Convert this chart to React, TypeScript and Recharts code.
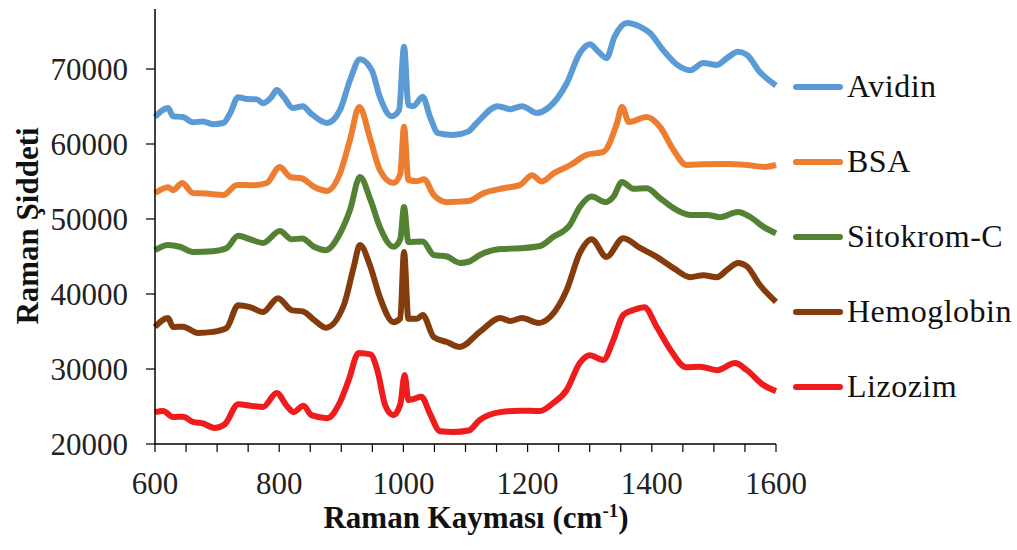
import { LineChart, Line, XAxis, YAxis, Legend, Label } from 'recharts';

type Pt = [number, number];

// Raman kayması (cm-1), şiddet
const avidin: Pt[] = [
  [600, 63600], [621, 64800], [629, 63700], [645, 63600], [661, 62900], [677, 63000],
  [693, 62650], [710, 62800], [721, 64100], [734, 66250], [748, 66000], [764, 65950],
  [774, 65450], [788, 66300], [796, 67200], [807, 66300], [822, 64800], [838, 65050],
  [850, 64150], [877, 62800], [898, 64550], [914, 68500], [930, 71300], [949, 69850],
  [962, 66300], [981, 63700], [993, 64500], [1001, 72950], [1008, 65200], [1016, 65050],
  [1031, 66300], [1043, 63600], [1056, 61450], [1080, 61200], [1104, 61650], [1118, 62800],
  [1152, 65050], [1172, 64650], [1191, 65050], [1215, 64150], [1233, 64800], [1263, 68100],
  [1284, 72100], [1300, 73300], [1314, 72300], [1327, 71450], [1340, 74300], [1360, 76150],
  [1381, 75650], [1397, 74800], [1418, 72550], [1441, 70550], [1462, 69850], [1483, 70800],
  [1505, 70550], [1521, 71450], [1539, 72300], [1553, 71900], [1574, 69600], [1600, 67800],
];

const bsa: Pt[] = [
  [600, 53450], [621, 54250], [629, 53850], [644, 54800], [661, 53450], [682, 53400],
  [710, 53200], [732, 54550], [759, 54500], [780, 54800], [801, 56950], [818, 55600],
  [837, 55400], [856, 54300], [877, 53750], [898, 56100], [914, 60550], [929, 64950],
  [947, 60550], [962, 56550], [984, 54800], [995, 56000], [1001, 62300], [1008, 55200],
  [1022, 55050], [1033, 55300], [1049, 53200], [1070, 52250], [1086, 52300], [1105, 52400],
  [1129, 53450], [1161, 54100], [1188, 54550], [1207, 55850], [1223, 55000], [1242, 56100],
  [1269, 57200], [1295, 58550], [1322, 58950], [1344, 62800], [1352, 64950], [1363, 62950],
  [1392, 63600], [1413, 62300], [1435, 59200], [1456, 57200], [1483, 57300], [1521, 57350],
  [1553, 57200], [1582, 56950], [1600, 57200],
];

const sitokromC: Pt[] = [
  [600, 45850], [621, 46550], [640, 46300], [661, 45600], [693, 45700], [715, 46100],
  [734, 47750], [753, 47300], [774, 46800], [801, 48400], [820, 47300], [837, 47400],
  [856, 46300], [875, 45850], [898, 48100], [914, 51200], [930, 55600], [947, 52550],
  [962, 48950], [984, 46300], [995, 47300], [1001, 51600], [1008, 46950], [1031, 47000],
  [1049, 45200], [1070, 45000], [1091, 44150], [1105, 44300], [1123, 45200], [1156, 46000],
  [1188, 46100], [1220, 46400], [1241, 47600], [1268, 49200], [1284, 51600], [1303, 53000],
  [1325, 52250], [1338, 52950], [1352, 54950], [1370, 54050], [1392, 54100], [1413, 52800],
  [1435, 51450], [1462, 50550], [1489, 50550], [1510, 50250], [1539, 50950], [1558, 50300],
  [1580, 48950], [1600, 48100],
];

const hemoglobin: Pt[] = [
  [600, 35600], [621, 36800], [629, 35600], [645, 35650], [669, 34800], [693, 34950],
  [715, 35450], [734, 38500], [753, 38250], [774, 37600], [798, 39450], [820, 37850],
  [839, 37650], [856, 36550], [875, 35500], [904, 38500], [920, 43600], [930, 46550],
  [947, 43600], [962, 39600], [984, 36250], [995, 36750], [1001, 45600], [1008, 36700],
  [1022, 36700], [1031, 37200], [1049, 34250], [1070, 33600], [1091, 32950], [1123, 34950],
  [1156, 36800], [1172, 36400], [1191, 36800], [1218, 36150], [1237, 37000], [1263, 40550],
  [1284, 45450], [1303, 47300], [1327, 44950], [1354, 47450], [1381, 46150], [1408, 44950],
  [1435, 43450], [1462, 42250], [1483, 42500], [1505, 42250], [1521, 43200], [1539, 44150],
  [1553, 43700], [1574, 41200], [1600, 38950],
];

const lizozim: Pt[] = [
  [600, 24250], [613, 24400], [629, 23600], [645, 23650], [661, 22950], [677, 22750],
  [696, 22150], [712, 22600], [734, 25300], [758, 25050], [774, 24950], [796, 26800],
  [812, 25100], [823, 24250], [839, 25100], [852, 23850], [877, 23450], [898, 25600],
  [912, 28550], [928, 32150], [947, 31950], [958, 29850], [971, 25100], [984, 23850],
  [995, 25300], [1002, 29200], [1008, 25850], [1016, 26000], [1029, 26300], [1043, 24000],
  [1059, 21700], [1080, 21600], [1105, 21800], [1123, 23200], [1156, 24250], [1188, 24450],
  [1220, 24400], [1241, 25450], [1263, 27200], [1284, 30800], [1300, 31850], [1322, 31200],
  [1338, 33850], [1354, 37200], [1370, 37850], [1388, 38250], [1408, 35600], [1430, 32550],
  [1455, 30250], [1478, 30300], [1505, 29850], [1534, 30800], [1553, 29850], [1580, 27850],
  [1600, 27050],
];

const seriesNames = ['Avidin', 'BSA', 'Sitokrom-C', 'Hemoglobin', 'Lizozim'];
const seriesColors = ['#5b9bd5', '#ed7d31', '#548235', '#843c0c', '#ee1c1c'];
const seriesValues = [avidin, bsa, sitokromC, hemoglobin, lizozim];

const xTicks = [
  600, 650, 700, 750, 800, 850, 900, 950, 1000, 1050, 1100,
  1150, 1200, 1250, 1300, 1350, 1400, 1450, 1500, 1550, 1600,
];
const yTicks = [20000, 30000, 40000, 50000, 60000, 70000];

const FONT = 'Liberation Serif';

const renderLegend = () => (
  <div style={{ fontFamily: FONT }}>
    {seriesNames.map((name, i) => (
      <div key={name} style={{ display: 'flex', alignItems: 'center', height: 75 }}>
        <span
          style={{
            display: 'inline-block',
            width: 50,
            height: 6,
            borderRadius: 3,
            background: seriesColors[i],
            marginRight: 4,
          }}
        />
        <span style={{ fontSize: 32, letterSpacing: 0.5, color: '#111' }}>{name}</span>
      </div>
    ))}
  </div>
);

export default function App() {
  return (
    <div style={{ position: 'absolute', left: 0, top: 0, fontFamily: FONT }}>
      <LineChart
        width={1017}
        height={550}
        margin={{ top: 9, right: 241, bottom: 0, left: 0 }}
        style={{ fontFamily: FONT }}
      >
        <XAxis
          type="number"
          dataKey="x"
          domain={[600, 1600]}
          ticks={xTicks}
          interval={0}
          height={106}
          tickSize={8}
          tickMargin={20}
          tickFormatter={(v: number) => (v % 200 === 0 ? String(v) : '')}
          axisLine={{ stroke: '#000', strokeWidth: 1.5 }}
          tickLine={{ stroke: '#000', strokeWidth: 1.2 }}
          tick={{ fontSize: 31, fontFamily: FONT, fill: '#222' }}
        >
          <Label
            content={() => (
              <text
                x={476}
                y={528}
                textAnchor="middle"
                fontFamily={FONT}
                fontSize={31}
                fontWeight="bold"
                fill="#111"
              >
                <tspan>Raman Kayması (cm</tspan>
                <tspan dy={-11} fontSize={19}>-1</tspan>
                <tspan dy={11}>)</tspan>
              </text>
            )}
          />
        </XAxis>
        <YAxis
          type="number"
          domain={[20000, 78000]}
          ticks={yTicks}
          interval={0}
          width={155}
          tickSize={9}
          tickMargin={18}
          axisLine={{ stroke: '#000', strokeWidth: 1.5 }}
          tickLine={{ stroke: '#000', strokeWidth: 1.2 }}
          tick={{ fontSize: 31, fontFamily: FONT, fill: '#222' }}
        >
          <Label
            content={() => (
              <text
                x={27}
                y={226}
                transform="rotate(-90, 27, 226)"
                textAnchor="middle"
                dominantBaseline="central"
                fontFamily={FONT}
                fontSize={31}
                fontWeight="bold"
                fill="#111"
              >
                Raman Şiddeti
              </text>
            )}
          />
        </YAxis>
        <Legend
          layout="vertical"
          align="center"
          verticalAlign="middle"
          content={renderLegend}
          wrapperStyle={{ left: 793, top: 49, width: 224 }}
        />
        {seriesValues.map((pts, i) => (
          <Line
            key={seriesNames[i]}
            name={seriesNames[i]}
            data={pts.map(([x, y]) => ({ x, y }))}
            dataKey="y"
            type="monotone"
            stroke={seriesColors[i]}
            strokeWidth={6}
            strokeLinejoin="round"
            dot={false}
            activeDot={false}
            isAnimationActive={false}
          />
        ))}
      </LineChart>
    </div>
  );
}
